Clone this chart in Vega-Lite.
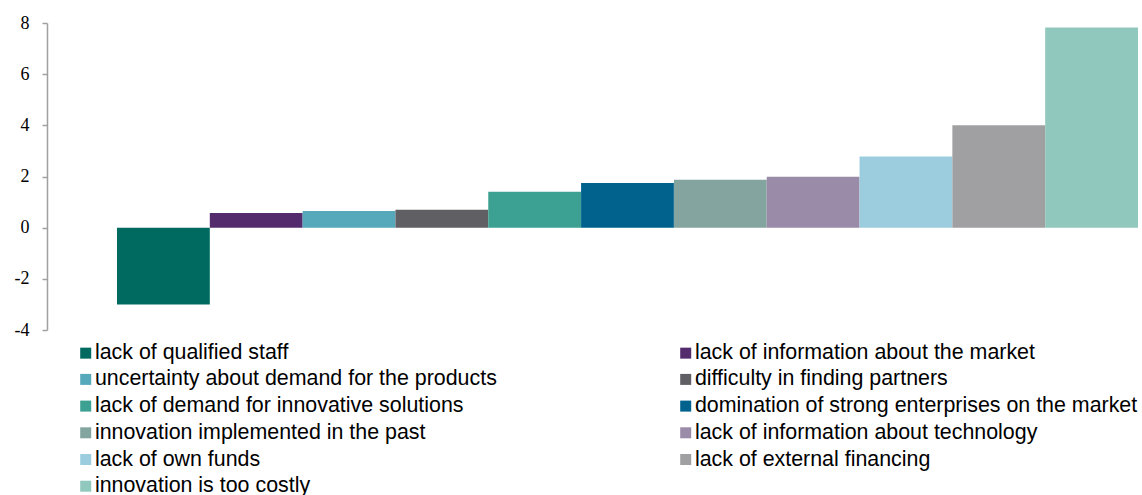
{
  "$schema": "https://vega.github.io/schema/vega-lite/v6.json",
  "autosize": {"type": "none"},
  "width": 1091,
  "height": 307,
  "padding": {"left": 47, "top": 23, "right": 4, "bottom": 165},
  "background": "white",
  "config": {"view": {"stroke": null}},
  "data": {
    "values": [
      {"order": 1, "factor": "lack of qualified staff", "value": -3.0},
      {"order": 2, "factor": "lack of information about the market", "value": 0.57},
      {"order": 3, "factor": "uncertainty about demand for the products", "value": 0.65},
      {"order": 4, "factor": "difficulty in finding partners", "value": 0.70},
      {"order": 5, "factor": "lack of demand for innovative solutions", "value": 1.40},
      {"order": 6, "factor": "domination of strong enterprises on the market", "value": 1.75},
      {"order": 7, "factor": "innovation implemented in the past", "value": 1.87},
      {"order": 8, "factor": "lack of information about technology", "value": 1.99},
      {"order": 9, "factor": "lack of own funds", "value": 2.78},
      {"order": 10, "factor": "lack of external financing", "value": 4.0},
      {"order": 11, "factor": "innovation is too costly", "value": 7.82}
    ]
  },
  "mark": {"type": "bar", "cornerRadius": 0},
  "encoding": {
    "x": {
      "field": "factor",
      "type": "nominal",
      "sort": {"field": "order"},
      "axis": null,
      "scale": {"paddingInner": 0, "paddingOuter": 0.377, "align": 1}
    },
    "y": {
      "field": "value",
      "type": "quantitative",
      "scale": {"domain": [-4, 8], "nice": false, "zero": false},
      "axis": {
        "title": null,
        "values": [-4, -2, 0, 2, 4, 6, 8],
        "labelExpr": "datum.value < 0 ? '-' + abs(datum.value) : '' + datum.value",
        "grid": false,
        "domainColor": "#a0a0a0",
        "domainWidth": 1.5,
        "tickColor": "#a0a0a0",
        "tickWidth": 1.5,
        "tickSize": 5,
        "labelFont": "Liberation Serif",
        "labelFontSize": 18,
        "labelColor": "#000000",
        "labelPadding": 13
      }
    },
    "color": {
      "field": "factor",
      "type": "nominal",
      "scale": {
        "domain": [
          "lack of qualified staff",
          "uncertainty about demand for the products",
          "lack of demand for innovative solutions",
          "innovation implemented in the past",
          "lack of own funds",
          "innovation is too costly",
          "lack of information about the market",
          "difficulty in finding partners",
          "domination of strong enterprises on the market",
          "lack of information about technology",
          "lack of external financing"
        ],
        "range": ["#006a60", "#56a8bb", "#3ca093", "#84a59f", "#9ccddf", "#91c8be", "#542c6e", "#5f5f64", "#01628d", "#9a8ba8", "#a0a0a2"]
      },
      "legend": {
        "title": null,
        "orient": "none",
        "legendX": 28,
        "legendY": 319,
        "columns": 2,
        "columnPadding": 178,
        "rowPadding": 3.7,
        "padding": 0,
        "symbolType": "square",
        "symbolSize": 121,
        "symbolStrokeWidth": 0,
        "symbolOpacity": 1,
        "labelFont": "Liberation Sans",
        "labelFontSize": 21.4,
        "labelColor": "#000000",
        "labelOffset": -1.5,
        "labelLimit": 600
      }
    }
  }
}
